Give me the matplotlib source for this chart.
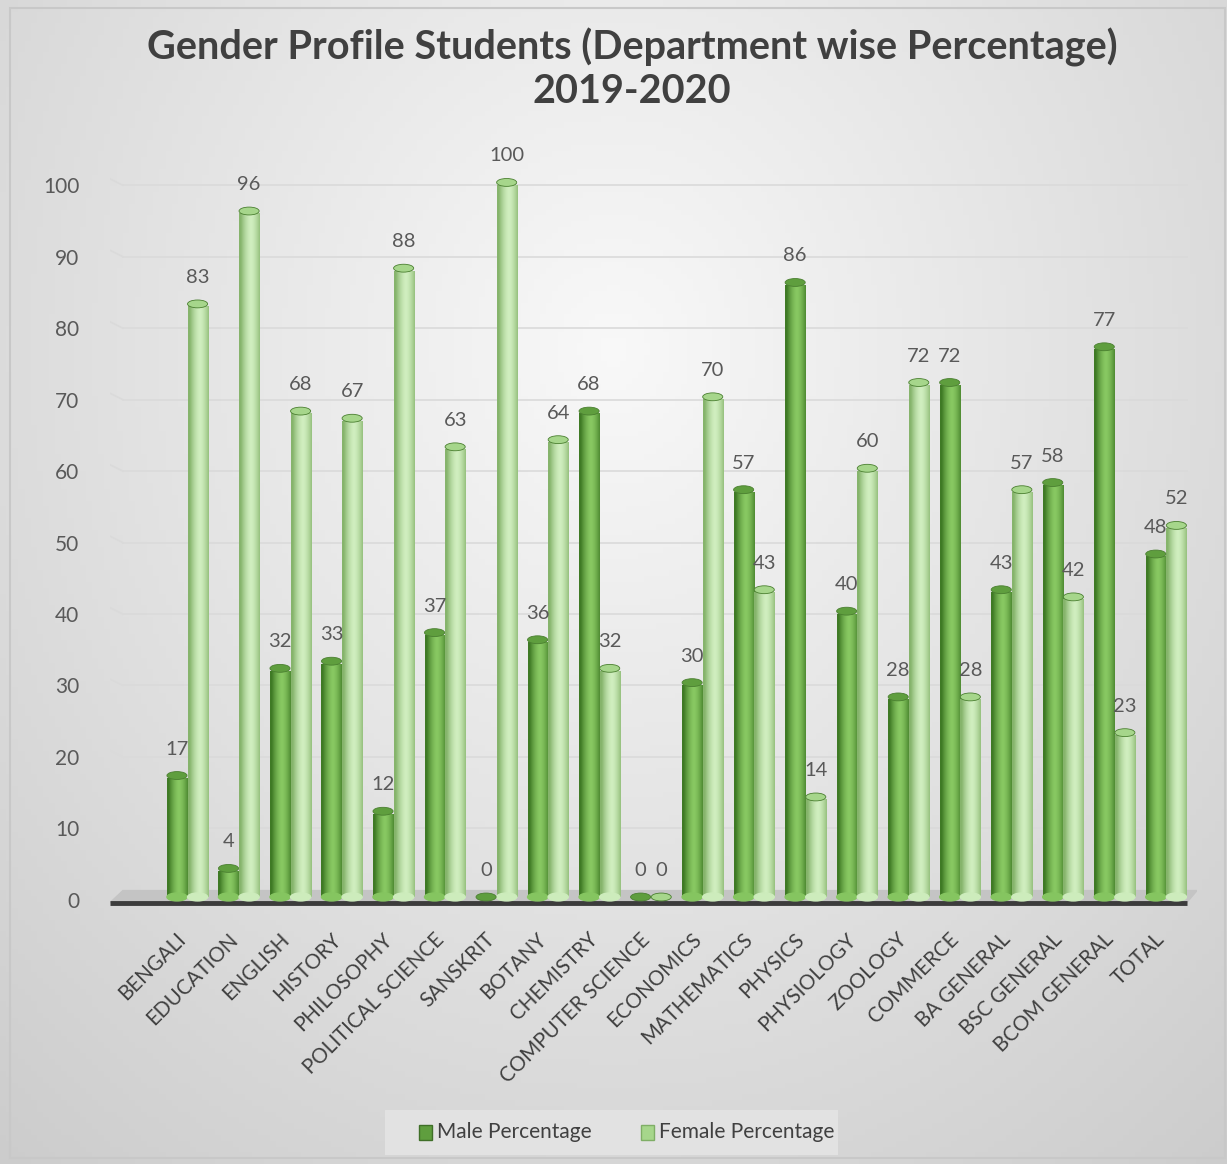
import numpy as np
from matplotlib import pyplot as plt
from matplotlib.patches import Ellipse, Rectangle
import matplotlib.colors as colors

plt.rcParams['font.family'] = ['Lato', 'DejaVu Sans']

departments = ['BENGALI', 'EDUCATION', 'ENGLISH', 'HISTORY', 'PHILOSOPHY',
               'POLITICAL SCIENCE', 'SANSKRIT', 'BOTANY', 'CHEMISTRY',
               'COMPUTER SCIENCE', 'ECONOMICS', 'MATHEMATICS', 'PHYSICS',
               'PHYSIOLOGY', 'ZOOLOGY', 'COMMERCE', 'BA GENERAL', 'BSC GENERAL',
               'BCOM GENERAL', 'TOTAL']
male = [17, 4, 32, 33, 12, 37, 0, 36, 68, 0, 30, 57, 86, 40, 28, 72, 43, 58, 77, 48]
female = [83, 96, 68, 67, 88, 63, 100, 64, 32, 0, 70, 43, 14, 60, 72, 28, 57, 42, 23, 52]

W, H = 1227, 1164
fig = plt.figure(figsize=(W / 100, H / 100), dpi=100)

# background: soft radial gray gradient
bg = fig.add_axes([0, 0, 1, 1])
yy, xx = np.mgrid[0:1:200j, 0:1:200j]
r = np.sqrt(((xx - 0.5) / 0.75) ** 2 + ((yy - 0.3) / 0.9) ** 2)
shade = np.clip(0.975 - 0.17 * r, 0.78, 1)
bg.imshow(np.dstack([shade] * 3), extent=[0, 1, 0, 1], aspect='auto', origin='upper')
bg.add_patch(Rectangle((0.008, 0.005), 0.99, 0.988, fill=False, ec='#c8c8c8', lw=1.5))
bg.set_xlim(0, 1)
bg.set_ylim(0, 1)
bg.axis('off')

left, right = 110 / W, 1197 / W
bottom, top = (H - 907) / H, (H - 171) / H
ax = fig.add_axes([left, bottom, right - left, top - bottom])
ax.set_facecolor('none')
ax.set_xlim(-1.5, 19.6)
ax.set_ylim(-1, 102)

for s in ax.spines.values():
    s.set_visible(False)

# gridlines
for v in range(10, 101, 10):
    ax.plot([-1.25, 19.4], [v, v], color='#dadada', lw=1.2, zorder=1)
    ax.plot([-1.5, -1.25], [v + 0.9, v], color='#dadada', lw=1.2, zorder=1)

# floor
ax.fill([-1.5, 19.4, 19.6, -1.25], [-0.4, -0.4, 1.3, 1.3], color='#c4c4c4', zorder=1)
ax.plot([-1.5, 19.4], [-0.4, -0.4], color='#3c3c3c', lw=3.5, zorder=2, solid_capstyle='butt')


def gradient(c_edge, c_mid):
    a = np.array(colors.to_rgb(c_edge))
    b = np.array(colors.to_rgb(c_mid))
    t = np.linspace(-1, 1, 40)
    w = 1 - np.abs(t - 0.15) ** 1.6
    w = np.clip(w, 0, 1)
    return (a[None, :] * (1 - w[:, None]) + b[None, :] * w[:, None])[None, :, :]


male_grad = gradient('#3f7a25', '#88c862')
female_grad = gradient('#86b46c', '#d0eebf')
bw = 0.39
eh = 1.1

for i, (m, f) in enumerate(zip(male, female)):
    for val, off, grad, top_c in [(m, -0.2, male_grad, '#5f9e3e'), (f, 0.2, female_grad, '#a6d68b')]:
        xc = i + off
        x0, x1 = xc - bw / 2, xc + bw / 2
        if val > 0:
            ax.imshow(grad, extent=[x0, x1, 0.4, val], aspect='auto', zorder=3)
            ax.add_patch(Ellipse((xc, 0.4), bw, eh, color=grad[0, 20], zorder=3))
        ax.add_patch(Ellipse((xc, val + 0.4), bw, eh, color=top_c, ec='#4a7f30', lw=0.6, zorder=4))
        ax.annotate(str(val), (xc, val), xytext=(0, 15), textcoords='offset points',
                    ha='center', va='bottom', fontsize=14.5, color='#595959', zorder=5)

ax.set_yticks(range(0, 101, 10))
ax.set_yticklabels([str(v) for v in range(0, 101, 10)], fontsize=15, color='#595959')
ax.tick_params(axis='y', length=0, pad=22)
ax.set_xticks(np.arange(len(departments)) - 0.22)
ax.set_xticklabels(departments, rotation=45, ha='right', va='top', rotation_mode='anchor',
                   fontsize=14.8, color='#404040')
ax.tick_params(axis='x', length=0, pad=16)

fig.text(0.515, 0.959, 'Gender Profile Students (Department wise Percentage)',
         ha='center', va='center', fontsize=28.5, fontweight='bold', color='#404040')
fig.text(0.515, 0.921, '2019-2020', ha='center', va='center', fontsize=28.5,
         fontweight='bold', color='#404040')

# legend
lg = fig.add_axes([385 / W, (H - 1155) / H, 453 / W, 45 / H])
lg.set_xlim(0, 453)
lg.set_ylim(0, 45)
lg.add_patch(Rectangle((0, 0), 453, 45, color='#e2e2e2'))
lg.add_patch(Rectangle((34, 15), 13, 15, fc='#5f9e3e', ec='#3f6f28', lw=1))
lg.text(52, 22.5, 'Male Percentage', va='center', fontsize=15, color='#404040')
lg.add_patch(Rectangle((256, 15), 13, 15, fc='#a6d68b', ec='#7fae66', lw=1))
lg.text(274, 22.5, 'Female Percentage', va='center', fontsize=15, color='#404040')
lg.axis('off')

fig.savefig('out.png', dpi=100)
